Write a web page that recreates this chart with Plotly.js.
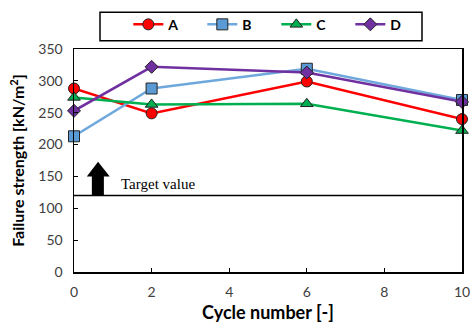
<!DOCTYPE html>
<html><head><meta charset="utf-8">
<script src="https://cdn.plot.ly/plotly-3.0.1.min.js"></script>
<style>html,body{margin:0;padding:0;background:#fff}#c{width:471px;height:324px}</style>
</head><body><div id="c"></div>
<script>
var cycles = [0, 2, 6, 10];
var seriesA = [288, 249, 299, 240];
var seriesB = [213, 288, 319, 270];
var seriesC = [274, 263, 264, 222];
var seriesD = [253, 322, 313, 267];
var targetValue = 120;
var names = ['A','B','C','D'];

var styles = [
  {line:'#ff0000', fill:'#ff0000', sym:'circle', size:11},
  {line:'#6fa8dc', fill:'#5b9bd5', sym:'square', size:11},
  {line:'#00b050', fill:'#00b050', sym:'triangle-up', size:11},
  {line:'#7030a0', fill:'#7030a0', sym:'diamond', size:10}
];
var vals = [seriesA, seriesB, seriesC, seriesD];
var traces = vals.map(function(v,i){
  return {x:cycles, y:v, name:names[i], type:'scatter', mode:'lines+markers', cliponaxis:false,
    line:{color:styles[i].line, width:2.5},
    marker:{symbol:styles[i].sym, size:styles[i].size, color:styles[i].fill, line:{color:'#222', width:1}}};
});

var layout = {
  width:471, height:324,
  margin:{l:74, r:9, t:49, b:52},
  paper_bgcolor:'#fff', plot_bgcolor:'#fff',
  font:{family:'Lato, "Open Sans", sans-serif', color:'#404040', size:14},
  showlegend:true,
  legend:{orientation:'h', x:0.14, xanchor:'left', y:1.037, yanchor:'bottom',
    entrywidth:29, entrywidthmode:'pixels', itemwidth:30, borderwidth:0, bgcolor:'rgba(0,0,0,0)',
    font:{family:'Lato, sans-serif', size:14, color:'#000', weight:'bold'}, traceorder:'normal'},
  xaxis:{range:[0,10], dtick:2, showline:true, linecolor:'#000', linewidth:1.5, mirror:true,
    ticks:'inside', ticklen:4, tickcolor:'#000', showgrid:false, zeroline:false, ticklabelstandoff:7,
    title:{text:'Cycle number [-]', font:{size:18, color:'#000', weight:'bold'}, standoff:7}},
  yaxis:{range:[0,350], dtick:50, showline:true, linecolor:'#000', linewidth:1.5, mirror:true,
    ticks:'inside', ticklen:4, tickcolor:'#000', showgrid:false, zeroline:false, ticklabelstandoff:7,
    title:{text:'Failure strength [kN/m<sup>2</sup>]', font:{size:16, color:'#000', weight:'bold'}, standoff:9}},
  shapes:[
    {type:'line', xref:'paper', x0:0, x1:1, yref:'y', y0:targetValue, y1:targetValue, line:{color:'#000', width:1.5}, layer:'below'},
    {type:'path', xref:'x', yref:'y', path:'M0.46,120 L0.46,150 L0.33,150 L0.62,173 L0.92,150 L0.77,150 L0.77,120 Z', fillcolor:'#000', line:{width:0}},
    {type:'rect', xref:'paper', yref:'paper', x0:(100-74)/388, x1:(422-74)/388, y0:(271.7-41)/222.4, y1:(271.7-12.7)/222.4, line:{color:'#000', width:1.5}, fillcolor:'rgba(0,0,0,0)'}
  ],
  annotations:[
    {xref:'x', yref:'y', x:1.15, y:targetValue+3, xanchor:'left', yanchor:'bottom', showarrow:false,
     text:'Target value', font:{family:'"Liberation Serif", "DejaVu Serif", serif', size:15, color:'#000'}}
  ]
};
Plotly.newPlot('c', traces, layout, {displayModeBar:false, staticPlot:true});
</script></body></html>
